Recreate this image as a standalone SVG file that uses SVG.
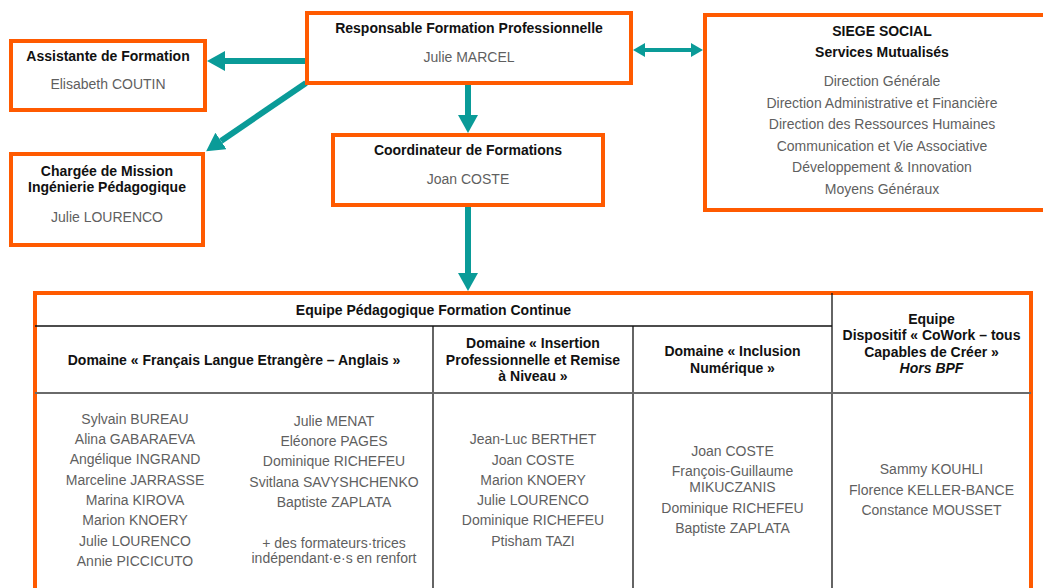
<svg xmlns="http://www.w3.org/2000/svg" width="1043" height="588" viewBox="0 0 1043 588">
<defs>
<style>
.box{fill:#fff;stroke:#ff5a00;stroke-width:4}
.t{font-family:"Liberation Sans",Arial,sans-serif;font-size:14px;font-weight:bold;fill:#111;text-anchor:middle}
.n{font-family:"Liberation Sans",Arial,sans-serif;font-size:14px;fill:#5f5f5f;text-anchor:middle}
.ti{font-style:italic}
.conn{stroke:#0a9b98;fill:none}
.grid{stroke:#111;stroke-width:1.3;fill:none}
.grid2{stroke:#6a6a6a;stroke-width:2;fill:none}
</style>
<marker id="ah" markerUnits="userSpaceOnUse" markerWidth="18" markerHeight="20" viewBox="0 0 18 20" refX="0" refY="10" orient="auto">
<path d="M0,0 L18,10 L0,20 z" fill="#0a9b98"/>
</marker>
<marker id="ahs" markerUnits="userSpaceOnUse" markerWidth="12" markerHeight="14" viewBox="0 0 12 14" refX="0" refY="7" orient="auto-start-reverse">
<path d="M0,0 L12,7 L0,14 z" fill="#0a9b98"/>
</marker>
</defs>
<rect width="1043" height="588" fill="#fff"/>

<g id="connectors">
<line class="conn" stroke-width="6" x1="307" y1="61" x2="225" y2="61" marker-end="url(#ah)"/>
<line class="conn" stroke-width="6" x1="306" y1="83" x2="221" y2="141" marker-end="url(#ah)"/>
<line class="conn" stroke-width="6" x1="468" y1="85" x2="468" y2="115" marker-end="url(#ah)"/>
<line class="conn" stroke-width="4" x1="645" y1="50" x2="691" y2="50" marker-start="url(#ahs)" marker-end="url(#ahs)"/>
<line class="conn" stroke-width="6" x1="468" y1="207" x2="468" y2="273" marker-end="url(#ah)"/>
</g>

<g id="assistante">
<rect class="box" x="11" y="41" width="194" height="69"/>
<text class="t" x="108" y="61">Assistante de Formation</text>
<text class="n" x="108" y="89">Elisabeth COUTIN</text>
</g>

<g id="chargee">
<rect class="box" x="11" y="154" width="192" height="91"/>
<text class="t" x="107" y="176">Chargée de Mission</text>
<text class="t" x="107" y="192">Ingénierie Pédagogique</text>
<text class="n" x="107" y="222">Julie LOURENCO</text>
</g>

<g id="responsable">
<rect class="box" x="307" y="13" width="324" height="70"/>
<text class="t" x="469" y="33">Responsable Formation Professionnelle</text>
<text class="n" x="469" y="62">Julie MARCEL</text>
</g>

<g id="coordinateur">
<rect class="box" x="333" y="135" width="270" height="70"/>
<text class="t" x="468" y="155">Coordinateur de Formations</text>
<text class="n" x="468" y="184">Joan COSTE</text>
</g>

<g id="siege">
<rect class="box" x="705" y="15" width="345" height="195"/>
<text class="t" x="882" y="36">SIEGE SOCIAL</text>
<text class="t" x="882" y="57">Services Mutualisés</text>
<text class="n" x="882" y="86">Direction Générale</text>
<text class="n" x="882" y="107.5">Direction Administrative et Financière</text>
<text class="n" x="882" y="129">Direction des Ressources Humaines</text>
<text class="n" x="882" y="150.5">Communication et Vie Associative</text>
<text class="n" x="882" y="172">Développement &amp; Innovation</text>
<text class="n" x="882" y="193.5">Moyens Généraux</text>
</g>

<g id="equipe">
<rect class="box" x="35" y="293" width="996" height="310"/>
<line class="grid" x1="35" y1="326" x2="832" y2="326"/>
<line class="grid" x1="832" y1="293" x2="832" y2="600"/>
<line class="grid" x1="433" y1="326" x2="433" y2="600"/>
<line class="grid" x1="633" y1="326" x2="633" y2="600"/>
<line class="grid2" x1="35" y1="393" x2="1031" y2="393"/>
<text class="t" x="433.5" y="315">Equipe Pédagogique Formation Continue</text>
<text class="t" x="234" y="365">Domaine « Français Langue Etrangère – Anglais »</text>
<text class="t" x="533" y="348">Domaine « Insertion</text>
<text class="t" x="533" y="364.5">Professionnelle et Remise</text>
<text class="t" x="533" y="381">à Niveau »</text>
<text class="t" x="732.5" y="356">Domaine « Inclusion</text>
<text class="t" x="732.5" y="372.5">Numérique »</text>
<text class="t" x="931.5" y="323.5">Equipe</text>
<text class="t" x="931.5" y="340">Dispositif « CoWork – tous</text>
<text class="t" x="931.5" y="356.5">Capables de Créer »</text>
<text class="t ti" x="931.5" y="373">Hors BPF</text>

<text class="n" x="135" y="423.5">Sylvain BUREAU</text>
<text class="n" x="135" y="444">Alina GABARAEVA</text>
<text class="n" x="135" y="464">Angélique INGRAND</text>
<text class="n" x="135" y="484.5">Marceline JARRASSE</text>
<text class="n" x="135" y="505">Marina KIROVA</text>
<text class="n" x="135" y="525">Marion KNOERY</text>
<text class="n" x="135" y="545.5">Julie LOURENCO</text>
<text class="n" x="135" y="566">Annie PICCICUTO</text>

<text class="n" x="334" y="425.5">Julie MENAT</text>
<text class="n" x="334" y="446">Eléonore PAGES</text>
<text class="n" x="334" y="466">Dominique RICHEFEU</text>
<text class="n" x="334" y="486.5">Svitlana SAVYSHCHENKO</text>
<text class="n" x="334" y="507">Baptiste ZAPLATA</text>
<text class="n" x="334" y="547.5">+ des formateurs·trices</text>
<text class="n" x="334" y="563">indépendant·e·s en renfort</text>

<text class="n" x="533" y="444">Jean-Luc BERTHET</text>
<text class="n" x="533" y="464.5">Joan COSTE</text>
<text class="n" x="533" y="484.5">Marion KNOERY</text>
<text class="n" x="533" y="505">Julie LOURENCO</text>
<text class="n" x="533" y="525">Dominique RICHEFEU</text>
<text class="n" x="533" y="545.5">Ptisham TAZI</text>

<text class="n" x="732.5" y="456">Joan COSTE</text>
<text class="n" x="732.5" y="476">François-Guillaume</text>
<text class="n" x="732.5" y="492">MIKUCZANIS</text>
<text class="n" x="732.5" y="513">Dominique RICHEFEU</text>
<text class="n" x="732.5" y="533">Baptiste ZAPLATA</text>

<text class="n" x="931.5" y="474">Sammy KOUHLI</text>
<text class="n" x="931.5" y="494.5">Florence KELLER-BANCE</text>
<text class="n" x="931.5" y="515">Constance MOUSSET</text>
</g>
</svg>
